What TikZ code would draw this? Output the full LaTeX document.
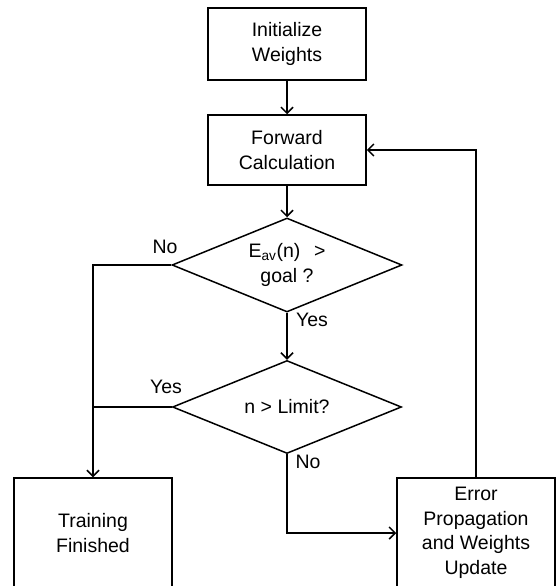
\documentclass[tikz,border=0pt]{standalone}
\usepackage{fontspec}
\setmainfont{Liberation Sans}
\usetikzlibrary{arrows.meta,shapes.geometric}

\begin{document}
\begin{tikzpicture}[x=1pt, y=-1pt, line width=1.5pt,
		box/.style={draw, align=center, minimum width=158pt, inner sep=0pt},
		decision/.style={draw, diamond, align=center, inner sep=0pt, aspect=2.45, minimum width=230pt, minimum height=94pt},
		arr/.style={-{Straight Barb[length=6pt,width=12pt,line width=1.5pt]}},
		every node/.style={font=\fontsize{19.5}{24.5}\selectfont}]
		%%%%% START %%%%%
		
		\useasboundingbox (0, 0) rectangle (558, 586);
		\clip (0, 0) rectangle (558, 586);
		
		\node[box, minimum height=72pt] (init) at (287, 44) {Initialize\\Weights};
		\node[box, minimum height=70pt] (fwd) at (287, 150) {Forward\\Calculation};
		
		\node[decision] (goal) at (287, 265) {E\textsubscript{av}(n)\hspace{0.7em}>\\goal ?};
		\node[decision, minimum width=229pt, minimum height=93pt] (limit) at (287, 407) {n > Limit?};
		
		\node[box, minimum height=110pt] (train) at (93, 533) {Training\\Finished};
		\node[box, minimum height=110pt] (update) at (476, 533) {Error\\Propagation\\and Weights\\Update};
		
		\node (noA) at (165, 247) {No};
		\node (yesA) at (312, 320) {Yes};
		\node (yesB) at (166, 387) {Yes};
		\node (noB) at (308, 462) {No};
		
		\draw[arr] (init) -- (fwd);
		\draw[arr] (fwd) -- (goal);
		\draw[arr] (goal) -- (limit);
		\draw[arr] (goal.west) -| (train);
		\coordinate (join) at (limit.west -| train);
		\draw (limit.west) -- (join);
		\draw[arr] (limit.south) |- (update.west);
		\draw[arr] (update.north) |- (fwd.east);
		
		%%%%% END %%%%%
	\end{tikzpicture}
\end{document}
